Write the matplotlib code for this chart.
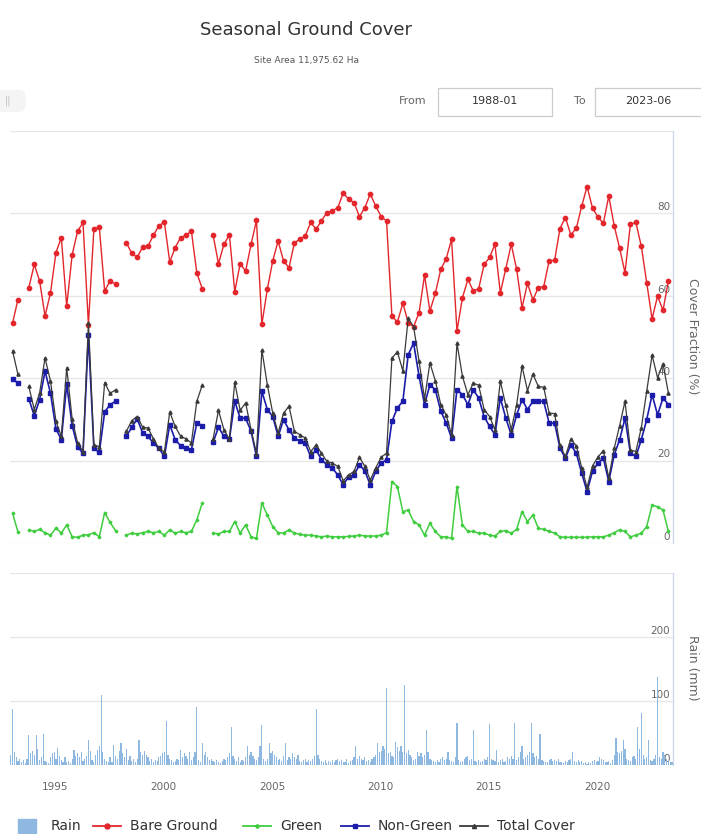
import numpy as np
import pandas as pd
import matplotlib
matplotlib.use("Agg")
import matplotlib.pyplot as plt
from matplotlib.patches import Rectangle, FancyBboxPatch
from matplotlib.lines import Line2D

W, H = 701, 834
nan = np.nan

# Seasonal ground cover fractions (%), one value per season from summer 1993
season_start = "1993-01-15"
bare_ground = [
    53.4, 59.1, nan, 62.0, 67.6, 63.6, 55.1, 60.7, 70.5, 74.1,
    57.5, 70.0, 75.7, 77.8, 53.0, 76.2, 76.6, 61.1, 63.7, 62.8,
    nan, 72.9, 70.3, 69.3, 71.9, 72.1, 74.7, 77.0, 77.9, 68.2,
    71.7, 74.1, 74.7, 75.7, 65.6, 61.7, nan, 74.8, 67.8, 72.5,
    74.8, 61.0, 67.8, 66.0, 72.5, 78.3, 53.1, 61.6, 68.5, 73.3,
    68.5, 66.8, 72.9, 73.7, 74.5, 77.8, 76.2, 78.2, 80.2, 80.6,
    81.4, 84.9, 83.5, 82.6, 79.2, 81.4, 84.7, 81.8, 79.2, 78.2,
    55.1, 53.6, 58.2, 53.5, 52.5, 55.9, 65.0, 56.3, 60.6, 66.4,
    69.0, 73.7, 51.5, 59.5, 64.0, 61.2, 61.7, 67.6, 69.3, 72.5,
    60.7, 66.6, 72.5, 66.4, 57.1, 63.0, 59.0, 62.0, 62.2, 68.5,
    68.6, 76.3, 79.0, 74.8, 76.4, 81.7, 86.5, 81.3, 79.1, 77.6,
    84.2, 77.0, 71.5, 65.6, 77.4, 77.8, 72.0, 63.2, 54.4, 59.9,
    56.5, 63.6,
]
green = [
    7.2, 2.7, nan, 3.2, 2.8, 3.3, 2.5, 1.9, 3.6, 2.4,
    4.4, 1.5, 1.4, 1.9, 2.0, 2.5, 1.5, 7.4, 5.0, 3.0,
    nan, 1.9, 2.4, 2.2, 2.5, 2.8, 2.5, 2.8, 1.9, 3.2,
    2.4, 2.8, 2.5, 2.8, 5.6, 9.7, nan, 2.4, 2.2, 2.8,
    2.8, 5.2, 2.4, 4.4, 1.5, 1.1, 9.7, 6.8, 4.0, 2.5,
    2.4, 3.2, 2.4, 2.1, 1.9, 1.9, 1.7, 1.5, 1.7, 1.5,
    1.5, 1.5, 1.6, 1.7, 1.9, 1.7, 1.7, 1.7, 1.9, 2.5,
    14.9, 13.7, 7.6, 8.0, 5.2, 4.4, 1.9, 4.8, 2.8, 1.5,
    1.5, 1.1, 13.7, 4.4, 2.8, 2.8, 2.4, 2.4, 1.9, 1.7,
    2.8, 3.0, 2.4, 3.3, 7.6, 5.2, 6.8, 3.6, 3.3, 2.8,
    2.4, 1.5, 1.4, 1.4, 1.4, 1.4, 1.4, 1.5, 1.5, 1.5,
    1.9, 2.5, 3.2, 2.8, 1.5, 1.9, 2.4, 4.0, 9.2, 8.8,
    8.0, 2.8,
]
non_green = [
    39.8, 38.8, nan, 35.0, 30.9, 34.8, 41.7, 36.4, 27.7, 25.1,
    38.5, 28.5, 23.3, 21.8, 50.5, 23.0, 22.0, 31.8, 33.6, 34.4,
    nan, 25.9, 28.1, 30.1, 26.7, 25.9, 24.2, 23.0, 21.0, 28.7,
    25.1, 23.6, 23.0, 22.6, 29.1, 28.5, nan, 24.4, 28.1, 25.9,
    25.2, 34.4, 30.3, 30.3, 27.1, 21.0, 36.8, 32.4, 30.7, 25.9,
    29.9, 27.5, 25.5, 24.7, 24.2, 21.0, 22.6, 20.2, 19.0, 18.2,
    16.5, 14.1, 16.1, 16.5, 19.0, 17.5, 14.1, 17.4, 19.4, 20.2,
    29.5, 32.8, 34.4, 45.7, 48.5, 40.5, 33.6, 38.4, 37.2, 32.0,
    29.1, 25.5, 37.2, 36.0, 33.6, 37.2, 35.2, 30.7, 28.3, 26.3,
    35.2, 30.3, 26.3, 31.1, 34.8, 32.4, 34.4, 34.4, 34.4, 29.1,
    29.1, 23.0, 20.6, 23.8, 21.8, 17.0, 12.5, 17.4, 19.4, 20.6,
    14.9, 21.4, 25.1, 30.3, 21.8, 21.0, 25.1, 29.9, 36.0, 31.1,
    35.2, 33.6,
]
total_cover = [
    46.6, 40.9, nan, 38.0, 32.4, 36.4, 44.9, 39.3, 29.5, 25.9,
    42.5, 30.0, 24.3, 22.2, 53.5, 23.8, 23.4, 38.9, 36.3, 37.2,
    nan, 27.1, 29.7, 30.7, 28.1, 27.9, 25.3, 23.0, 22.1, 31.8,
    28.3, 25.9, 25.3, 24.3, 34.4, 38.3, nan, 25.2, 32.2, 27.5,
    25.2, 39.0, 32.2, 34.0, 27.5, 21.7, 46.9, 38.4, 31.5, 26.7,
    31.5, 33.2, 27.1, 26.3, 25.5, 22.2, 23.8, 21.8, 19.8, 19.4,
    18.6, 15.1, 16.5, 17.4, 20.8, 18.6, 15.3, 18.2, 20.8, 21.8,
    44.9, 46.4, 41.8, 54.5, 52.5, 44.1, 35.0, 43.7, 39.4, 33.6,
    31.0, 26.3, 48.5, 40.5, 36.0, 38.8, 38.3, 32.4, 30.7, 27.5,
    39.3, 33.4, 27.5, 33.6, 42.9, 37.0, 41.0, 38.0, 37.8, 31.5,
    31.4, 23.7, 21.0, 25.2, 23.6, 18.3, 13.5, 18.7, 20.9, 22.4,
    15.8, 23.0, 28.5, 34.4, 22.6, 22.2, 28.0, 36.8, 45.6, 40.1,
    43.5, 36.4,
]

# Monthly rainfall (mm), from December 1992
rain_start = "1992-12-15"
rain_mm = [15] + [
    88, 20, 12, 6, 10, 4, 8, 3, 10, 47, 18, 22,      # 1993
    15, 47, 25, 8, 12, 49, 6, 4, 3, 12, 18, 20,      # 1994
    10, 26, 14, 8, 5, 12, 4, 6, 3, 10, 23, 14,       # 1995
    18, 12, 20, 6, 9, 14, 39, 22, 8, 5, 16, 24,      # 1996
    30, 109, 20, 10, 6, 4, 12, 5, 31, 14, 10, 22,    # 1997
    34, 18, 12, 25, 8, 14, 6, 10, 5, 9, 39, 20,      # 1998
    15, 22, 16, 12, 6, 10, 4, 8, 6, 12, 14, 18,      # 1999
    20, 68, 15, 10, 8, 5, 6, 10, 8, 23, 12, 18,      # 2000
    14, 10, 20, 8, 12, 20, 91, 8, 5, 34, 15, 20,     # 2001
    12, 8, 10, 6, 4, 8, 5, 3, 6, 10, 8, 12,          # 2002
    18, 60, 14, 9, 6, 12, 5, 8, 6, 12, 29, 15,       # 2003
    20, 14, 10, 8, 12, 30, 62, 10, 6, 9, 34, 18,     # 2004
    22, 16, 12, 8, 10, 6, 14, 34, 8, 12, 10, 18,     # 2005
    12, 10, 15, 6, 4, 8, 10, 5, 8, 6, 10, 14,        # 2006
    88, 15, 10, 6, 5, 8, 3, 6, 4, 8, 5, 8,           # 2007
    10, 6, 8, 5, 4, 10, 3, 6, 8, 12, 29, 10,         # 2008
    14, 10, 8, 12, 6, 8, 5, 10, 12, 16, 34, 20,      # 2009
    22, 30, 25, 120, 18, 20, 14, 12, 36, 28, 22, 30, # 2010
    20, 125, 18, 24, 15, 12, 8, 10, 20, 14, 18, 12,  # 2011
    16, 55, 20, 10, 8, 6, 5, 8, 4, 10, 12, 8,        # 2012
    10, 21, 8, 6, 5, 12, 65, 8, 4, 6, 10, 12,        # 2013
    14, 8, 10, 55, 6, 5, 8, 4, 6, 10, 8, 12,         # 2014
    64, 10, 8, 6, 23, 5, 8, 10, 4, 6, 12, 10,        # 2015
    14, 10, 65, 8, 12, 20, 29, 10, 12, 15, 20, 65,   # 2016
    18, 12, 14, 10, 49, 8, 6, 5, 4, 8, 10, 6,        # 2017
    8, 6, 10, 4, 5, 3, 6, 4, 8, 10, 21, 6,           # 2018
    5, 8, 4, 6, 3, 5, 2, 4, 3, 6, 8, 5,              # 2019
    6, 13, 10, 8, 5, 4, 6, 3, 8, 15, 42, 20,         # 2020
    18, 22, 39, 25, 10, 8, 6, 12, 14, 10, 60, 25,    # 2021
    81, 15, 10, 12, 39, 8, 6, 10, 15, 138, 12, 10,   # 2022
    20, 16, 10, 8, 5, 4,                             # 2023
]

year_ticks = [1995, 2000, 2005, 2010, 2015, 2020]
cover_ticks = [0, 20, 40, 60, 80, 100]
rain_ticks = [0, 100, 200, 300]
x_range = (1992.92, 2023.5)

C_BARE = "#e2262b"
C_GREEN = "#3fcd3f"
C_NONGREEN = "#1c1caa"
C_TOTAL = "#3a3a3a"
C_RAIN = "#8fb8e0"
C_GRID = "#e6e6e6"
C_AXIS = "#ccd6eb"
C_LABEL = "#666666"


def decimal_year(dates):
    days = np.where(dates.is_leap_year, 366.0, 365.0)
    return dates.year + (dates.dayofyear - 0.5) / days


seasons = pd.date_range(season_start, periods=len(bare_ground), freq=pd.DateOffset(months=3))
t_season = decimal_year(seasons)
months = pd.date_range(rain_start, periods=len(rain_mm), freq=pd.DateOffset(months=1))
t_month = decimal_year(months)


def box(left, top, right, bottom):
    return [left / W, 1 - bottom / H, (right - left) / W, (bottom - top) / H]


def fx(x):
    return x / W


def fy(y):
    return 1 - y / H


fig = plt.figure(figsize=(W / 100, H / 100), dpi=100)
fig.patch.set_facecolor("white")

ax = fig.add_axes(box(10, 131, 673, 543))
axr = fig.add_axes(box(10, 573, 673, 765))

for a, ticks in ((ax, cover_ticks), (axr, rain_ticks)):
    a.set_xlim(*x_range)
    a.set_ylim(ticks[0], ticks[-1])
    a.set_yticks(ticks)
    a.yaxis.grid(True, color=C_GRID, lw=0.9)
    a.set_axisbelow(True)
    for side in ("left", "top", "bottom"):
        a.spines[side].set_visible(False)
    a.spines["right"].set_color(C_AXIS)
    a.spines["right"].set_linewidth(0.9)
    a.tick_params(left=False, right=False, labelleft=False, labelright=False)
    for v in ticks[:-1]:
        a.annotate(str(v), xy=(1, v), xycoords=("axes fraction", "data"),
                   xytext=(-2, 4.5), textcoords="offset points",
                   ha="right", va="center", fontsize=7.5, color=C_LABEL)

ax.tick_params(bottom=False, labelbottom=False)
axr.set_xticks(year_ticks)
axr.set_xticklabels([str(y) for y in year_ticks])
axr.tick_params(axis="x", length=0, pad=12, labelsize=7.5, labelcolor=C_LABEL)

# cover series
ax.plot(t_season, bare_ground, color=C_BARE, lw=1.0, marker="o", ms=3.1,
        mec=C_BARE, zorder=3)
ax.plot(t_season, green, color=C_GREEN, lw=1.1, marker="D", ms=1.4,
        mec=C_GREEN, zorder=4)
ax.plot(t_season, non_green, color=C_NONGREEN, lw=1.2, marker="s", ms=3.0,
        mec=C_NONGREEN, zorder=5)
ax.plot(t_season, total_cover, color=C_TOTAL, lw=0.9, marker="^", ms=2.3,
        mec=C_TOTAL, zorder=6)

# rainfall columns
axr.bar(t_month, rain_mm, width=0.055, color=C_RAIN, lw=0, zorder=3)

# axis titles
fig.text(fx(692), fy(336), "Cover Fraction (%)", rotation=270, ha="center",
         va="center", fontsize=9, color=C_LABEL)
fig.text(fx(692), fy(668), "Rain (mm)", rotation=270, ha="center",
         va="center", fontsize=9, color=C_LABEL)

# titles
fig.text(fx(306), fy(30), "Seasonal Ground Cover", ha="center", va="center",
         fontsize=13, color="#333333")
fig.text(fx(306), fy(61), "Site Area 11,975.62 Ha", ha="center", va="center",
         fontsize=6.5, color="#555555")

# menu button (partly outside the canvas) and date range inputs
fig.patches.append(FancyBboxPatch((fx(-12), fy(112)), 38 / W, 22 / H,
                                  boxstyle="round,pad=0,rounding_size=0.01",
                                  transform=fig.transFigure, facecolor="#f4f4f4",
                                  edgecolor="none", clip_on=False))
fig.text(fx(8), fy(101), "||", ha="center", va="center", fontsize=7, color="#c0c0c0")
fig.text(fx(413), fy(101), "From", ha="center", va="center", fontsize=8, color=C_LABEL)
fig.text(fx(580), fy(101), "To", ha="center", va="center", fontsize=8, color=C_LABEL)
for (l, r), label, cx in (((438, 552), "1988-01", 495), ((595, 712), "2023-06", 648)):
    fig.patches.append(Rectangle((fx(l), fy(116)), (r - l) / W, 28 / H,
                                 transform=fig.transFigure, fill=False,
                                 edgecolor="#cccccc", lw=0.9, clip_on=False))
    fig.text(fx(cx), fy(101), label, ha="center", va="center", fontsize=8,
             color="#333333")

# legend
leg_y = 826
fig.patches.append(Rectangle((fx(18), fy(833)), 18 / W, 14 / H,
                             transform=fig.transFigure, color=C_RAIN))
fig.text(fx(51), fy(leg_y), "Rain", va="center", fontsize=10, color="#333333")
items = [
    (93, "Bare Ground", C_BARE, "o", 3.6),
    (243, "Green", C_GREEN, "D", 2.0),
    (341, "Non-Green", C_NONGREEN, "s", 3.4),
    (460, "Total Cover", C_TOTAL, "^", 3.0),
]
for x0, label, color, mk, ms in items:
    fig.lines.append(Line2D([fx(x0), fx(x0 + 28)], [fy(leg_y), fy(leg_y)],
                            transform=fig.transFigure, color=color, lw=1.3))
    fig.lines.append(Line2D([fx(x0 + 14)], [fy(leg_y)], transform=fig.transFigure,
                            color=color, marker=mk, ms=ms, lw=0))
    fig.text(fx(x0 + 37), fy(leg_y), label, va="center", fontsize=10, color="#333333")

fig.savefig("out.png", dpi=100, facecolor="white")
